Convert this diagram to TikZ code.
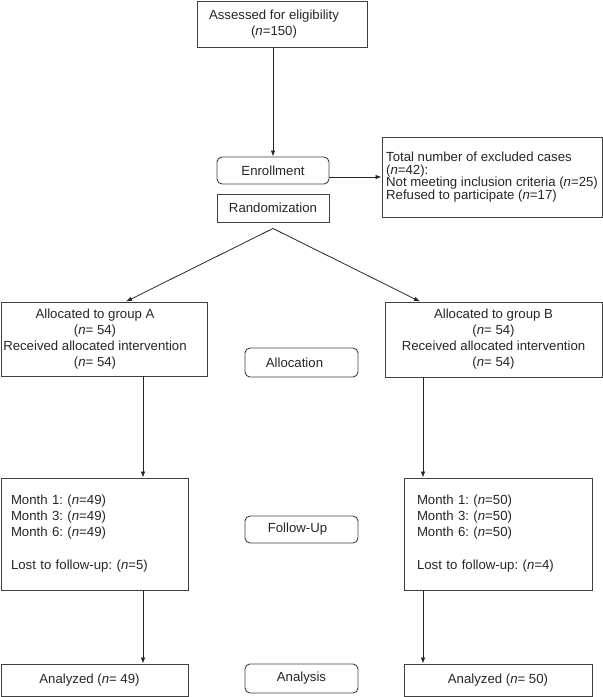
\documentclass[tikz,border=0pt]{standalone}
\usepackage{fontspec}
\setmainfont{Liberation Sans}
\usetikzlibrary{arrows.meta}
\frenchspacing
\newcommand\shl[1]{\hspace*{#1}}
\begin{document}
\begin{tikzpicture}[x=1pt,y=-1pt,
  every node/.style={font=\fontsize{13.2}{16}\selectfont, text=black!85},
  box/.style={draw=black!75, line width=0.9pt, inner sep=0pt, align=center},
  rbox/.style={box, rounded corners=5pt},
  tight/.style={font=\fontsize{13.2}{12.5}\selectfont},
  arr/.style={draw=black!85, line width=0.8pt, -{Latex[length=6pt,width=4.5pt]}}]
\useasboundingbox (0,0) rectangle (603,697);

\node[box, minimum width=170pt, minimum height=46pt] (assess) at (282,24)
  {\shl{-16pt}Assessed for eligibility\\\shl{-16pt}(\textit{n}=150)};
\node[rbox, minimum width=112pt, minimum height=27pt] (enroll) at (273,170.5) {Enrollment};
\node[box, minimum width=112pt, minimum height=28pt] (rand) at (273,208) {Randomization};
\node[box, tight, align=left, minimum width=220pt, minimum height=80pt] (excl) at (492,177)
  {Total number of excluded cases\\(\textit{n}=42):\\Not meeting inclusion criteria (\textit{n}=25)\\Refused to participate (\textit{n}=17)};

\node[box, minimum width=206pt, minimum height=74pt] (A) at (104,339)
  {\shl{-18pt}Allocated to group A\\\shl{-18pt}(\textit{n}= 54)\\\shl{-18pt}Received allocated intervention\\\shl{-18pt}(\textit{n}= 54)};
\node[rbox, minimum width=113pt, minimum height=29pt] (alloc) at (301.5,362.5) {\shl{-14pt}Allocation};
\node[box, minimum width=217pt, minimum height=75pt] (B) at (493.5,339.5)
  {Allocated to group B\\(\textit{n}= 54)\\Received allocated intervention\\(\textit{n}= 54)};

\node[box, align=left, text width=167pt, minimum width=187pt, minimum height=112pt] (fuA) at (94.5,534)
  {Month 1: (\textit{n}=49)\\Month 3: (\textit{n}=49)\\Month 6: (\textit{n}=49)\\[17pt]Lost to follow-up: (\textit{n}=5)};
\node[rbox, minimum width=113pt, minimum height=27pt] (fu) at (301.5,529.5) {\shl{-8pt}Follow-Up};
\node[box, align=left, text width=162pt, minimum width=188pt, minimum height=112pt] (fuB) at (498,534)
  {Month 1: (\textit{n}=50)\\Month 3: (\textit{n}=50)\\Month 6: (\textit{n}=50)\\[17pt]Lost to follow-up: (\textit{n}=4)\\[6pt]};

\node[box, minimum width=187pt, minimum height=32pt] (anA) at (94.5,680) {\shl{-10pt}Analyzed (\textit{n}= 49)};
\node[rbox, minimum width=113pt, minimum height=29pt] (an) at (301.5,678.5) {Analysis};
\node[box, minimum width=188pt, minimum height=32pt] (anB) at (498,680) {Analyzed (\textit{n}= 50)};

\coordinate (colA) at (143,0);
\coordinate (colB) at (423,0);
\coordinate (apex) at ([yshift=-6pt]rand.south);

\draw[arr] (enroll |- assess.south) -- (enroll.north);
\draw[arr] (enroll.east |- excl.west) -- (excl.west);
\draw[arr] (apex) -- ([xshift=22pt]A.north);
\draw[arr] (apex) -- ([xshift=-73.5pt]B.north);
\draw[arr] (colA |- A.south) -- (colA |- fuA.north);
\draw[arr] (colB |- B.south) -- (colB |- fuB.north);
\draw[arr] (colA |- fuA.south) -- (colA |- anA.north);
\draw[arr] (colB |- fuB.south) -- (colB |- anB.north);
\end{tikzpicture}
\end{document}
